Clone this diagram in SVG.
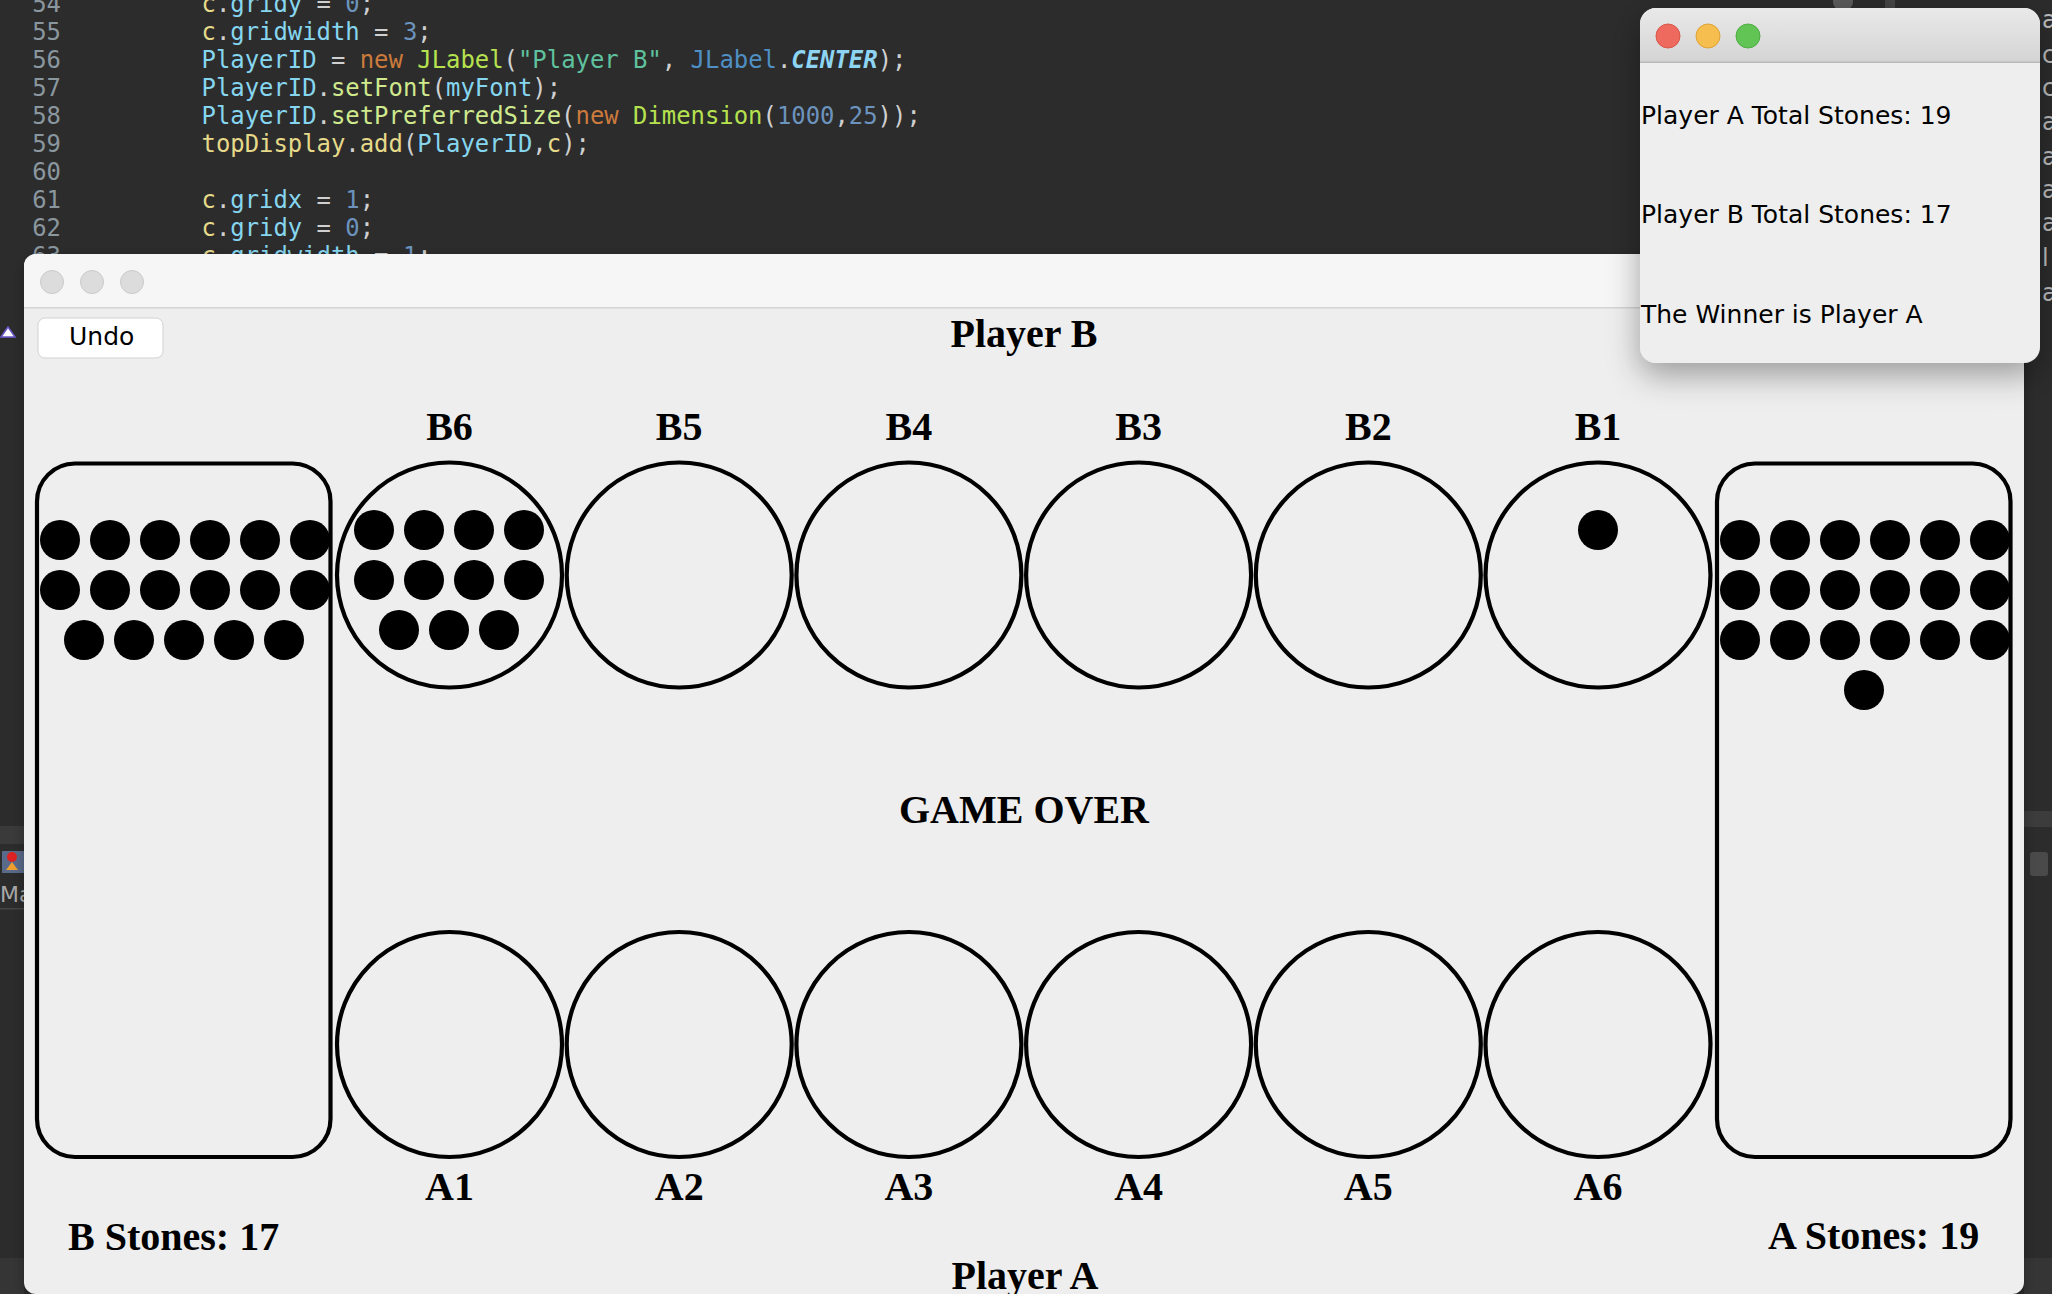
<svg xmlns="http://www.w3.org/2000/svg" width="2052" height="1294" viewBox="0 0 2052 1294">
<style>
.pit{fill:none;stroke:#000;stroke-width:4.2}
.stone{fill:#000}
.lbl{font-family:"Liberation Serif","Times New Roman",serif;font-weight:bold;font-size:40px;fill:#000}
.sys{font-family:"DejaVu Sans","Lucida Grande",sans-serif;font-size:25px;fill:#000}
.code{font-family:"DejaVu Sans Mono","Liberation Mono",monospace;font-size:23.9px;fill:#d0d0d0}
.ln{font-family:"DejaVu Sans Mono","Liberation Mono",monospace;font-size:23.9px;fill:#8a979f;text-anchor:end}
.v{fill:#86d6f0}.y{fill:#e6d98a}.k{fill:#cc7a3c}.cls{fill:#b6e24f}.s{fill:#5fc29e}.st{fill:#4f8fc4}
.n{fill:#6b93bd}.m{fill:#cfe98c}.ce{fill:#8dd5f3;font-weight:bold;font-style:italic}
.side{font-family:"DejaVu Sans",sans-serif;font-size:24px;fill:#bdbdbd}
</style>
<defs>
<linearGradient id="tb" x1="0" y1="0" x2="0" y2="1"><stop offset="0" stop-color="#e9e9e9"/><stop offset="1" stop-color="#d4d4d4"/></linearGradient>
<filter id="sh" x="-20%" y="-20%" width="140%" height="160%"><feDropShadow dx="0" dy="12" stdDeviation="16" flood-color="#000" flood-opacity="0.35"/></filter>
<filter id="sh2" x="-5%" y="-5%" width="110%" height="110%"><feDropShadow dx="0" dy="4" stdDeviation="6" flood-color="#000" flood-opacity="0.3"/></filter>
</defs>

<rect x="0" y="0" width="2052" height="1294" fill="#2c2c2c"/>
<rect x="1833" y="-8" width="20" height="18" rx="8" fill="#5a5a5a"/>
<rect x="1885" y="-4" width="10" height="16" fill="#454545"/>
<g id="code">
<text class="ln" x="61" y="12">54</text>
<text class="code" x="201.5" y="12"><tspan class="y">c</tspan>.<tspan class="v">gridy</tspan> = <tspan class="n">0</tspan>;</text>
<text class="ln" x="61" y="40">55</text>
<text class="code" x="201.5" y="40"><tspan class="y">c</tspan>.<tspan class="v">gridwidth</tspan> = <tspan class="n">3</tspan>;</text>
<text class="ln" x="61" y="68">56</text>
<text class="code" x="201.5" y="68"><tspan class="v">PlayerID</tspan> = <tspan class="k">new</tspan> <tspan class="cls">JLabel</tspan>(<tspan class="s">"Player B"</tspan>, <tspan class="st">JLabel</tspan>.<tspan class="ce">CENTER</tspan>);</text>
<text class="ln" x="61" y="96">57</text>
<text class="code" x="201.5" y="96"><tspan class="v">PlayerID</tspan>.<tspan class="m">setFont</tspan>(<tspan class="v">myFont</tspan>);</text>
<text class="ln" x="61" y="124">58</text>
<text class="code" x="201.5" y="124"><tspan class="v">PlayerID</tspan>.<tspan class="m">setPreferredSize</tspan>(<tspan class="k">new</tspan> <tspan class="cls">Dimension</tspan>(<tspan class="n">1000</tspan>,<tspan class="n">25</tspan>));</text>
<text class="ln" x="61" y="152">59</text>
<text class="code" x="201.5" y="152"><tspan class="y">topDisplay</tspan>.<tspan class="y">add</tspan>(<tspan class="v">PlayerID</tspan>,<tspan class="y">c</tspan>);</text>
<text class="ln" x="61" y="180">60</text>
<text class="ln" x="61" y="208">61</text>
<text class="code" x="201.5" y="208"><tspan class="y">c</tspan>.<tspan class="v">gridx</tspan> = <tspan class="n">1</tspan>;</text>
<text class="ln" x="61" y="236">62</text>
<text class="code" x="201.5" y="236"><tspan class="y">c</tspan>.<tspan class="v">gridy</tspan> = <tspan class="n">0</tspan>;</text>
<text class="ln" x="61" y="264">63</text>
<text class="code" x="201.5" y="264"><tspan class="y">c</tspan>.<tspan class="v">gridwidth</tspan> = <tspan class="n">1</tspan>;</text>
</g>
<g id="side-left">
<polygon points="1,337 8,327 15,337" fill="#fff" stroke="#6a5acd" stroke-width="1.5"/>
<rect x="0" y="826" width="24" height="18" fill="#3a3a3a"/>
<rect x="2" y="851" width="22" height="22" fill="#5a6a8a"/>
<circle cx="12" cy="857" r="5" fill="#d22"/>
<polygon points="6,870 12,862 18,870" fill="#f0a030"/>
<text x="0" y="902" font-family="DejaVu Sans,sans-serif" font-size="22" fill="#a8a8a8">Ma</text>
<rect x="0" y="908" width="24" height="1.5" fill="#444"/>
<rect x="0" y="1258" width="24" height="36" fill="#353535"/>
</g>
<g id="side-right">
<text class="side" x="2042" y="28">ay</text>
<text class="side" x="2042" y="63">c</text>
<text class="side" x="2042" y="96">c</text>
<text class="side" x="2042" y="130">ay</text>
<text class="side" x="2042" y="165">ay</text>
<text class="side" x="2042" y="198">ar</text>
<text class="side" x="2042" y="231">ay</text>
<text class="side" x="2042" y="266">l</text>
<text class="side" x="2042" y="301">at</text>
<rect x="2024" y="811" width="28" height="16" fill="#3c3c3c"/>
<rect x="2030" y="852" width="18" height="24" rx="3" fill="#4a4a4a"/>
<rect x="2024" y="1258" width="28" height="36" fill="#353535"/>
</g>

<g id="main-window">
<rect x="24" y="254" width="2000" height="1040" rx="12" fill="#eeeeee" filter="url(#sh2)"/>
<path d="M24,308 V266 a12,12 0 0 1 12,-12 H2012 a12,12 0 0 1 12,12 V308 Z" fill="#f6f6f6"/>
<rect x="24" y="307" width="2000" height="1.5" fill="#d4d4d4"/>
<circle cx="52" cy="282" r="11.5" fill="#dcdcdc" stroke="#cacaca" stroke-width="1"/>
<circle cx="92" cy="282" r="11.5" fill="#dcdcdc" stroke="#cacaca" stroke-width="1"/>
<circle cx="132" cy="282" r="11.5" fill="#dcdcdc" stroke="#cacaca" stroke-width="1"/>
</g>
<g id="undo-button">
<rect x="38" y="318" width="125" height="40" rx="7" fill="#ffffff" stroke="#d2d2d2" stroke-width="1"/>
<text class="sys" x="69" y="345">Undo</text>
</g>
<text id="player-b" class="lbl" x="1024" y="347" text-anchor="middle">Player B</text>

<g id="store-b">
<rect class="pit" x="37" y="463.5" width="293.5" height="693.5" rx="38"/>
<g class="stone">
<circle cx="60" cy="540" r="20"/><circle cx="110" cy="540" r="20"/><circle cx="160" cy="540" r="20"/><circle cx="210" cy="540" r="20"/><circle cx="260" cy="540" r="20"/><circle cx="310" cy="540" r="20"/>
<circle cx="60" cy="590" r="20"/><circle cx="110" cy="590" r="20"/><circle cx="160" cy="590" r="20"/><circle cx="210" cy="590" r="20"/><circle cx="260" cy="590" r="20"/><circle cx="310" cy="590" r="20"/>
<circle cx="84" cy="640" r="20"/><circle cx="134" cy="640" r="20"/><circle cx="184" cy="640" r="20"/><circle cx="234" cy="640" r="20"/><circle cx="284" cy="640" r="20"/>
</g>
</g>
<g id="store-a">
<rect class="pit" x="1717" y="463.5" width="293.5" height="693.5" rx="38"/>
<g class="stone">
<circle cx="1740" cy="540" r="20"/><circle cx="1790" cy="540" r="20"/><circle cx="1840" cy="540" r="20"/><circle cx="1890" cy="540" r="20"/><circle cx="1940" cy="540" r="20"/><circle cx="1990" cy="540" r="20"/>
<circle cx="1740" cy="590" r="20"/><circle cx="1790" cy="590" r="20"/><circle cx="1840" cy="590" r="20"/><circle cx="1890" cy="590" r="20"/><circle cx="1940" cy="590" r="20"/><circle cx="1990" cy="590" r="20"/>
<circle cx="1740" cy="640" r="20"/><circle cx="1790" cy="640" r="20"/><circle cx="1840" cy="640" r="20"/><circle cx="1890" cy="640" r="20"/><circle cx="1940" cy="640" r="20"/><circle cx="1990" cy="640" r="20"/>
<circle cx="1864" cy="690" r="20"/>
</g>
</g>

<g id="pit-B6">
<text class="lbl" x="449.5" y="440" text-anchor="middle">B6</text>
<circle class="pit" cx="449.5" cy="575" r="112.5"/>
<g class="stone">
<circle cx="374" cy="530" r="20"/><circle cx="424" cy="530" r="20"/><circle cx="474" cy="530" r="20"/><circle cx="524" cy="530" r="20"/>
<circle cx="374" cy="580" r="20"/><circle cx="424" cy="580" r="20"/><circle cx="474" cy="580" r="20"/><circle cx="524" cy="580" r="20"/>
<circle cx="399" cy="630" r="20"/><circle cx="449" cy="630" r="20"/><circle cx="499" cy="630" r="20"/>
</g>
</g>
<g id="pit-B5"><text class="lbl" x="679.2" y="440" text-anchor="middle">B5</text><circle class="pit" cx="679.2" cy="575" r="112.5"/></g>
<g id="pit-B4"><text class="lbl" x="908.9" y="440" text-anchor="middle">B4</text><circle class="pit" cx="908.9" cy="575" r="112.5"/></g>
<g id="pit-B3"><text class="lbl" x="1138.6" y="440" text-anchor="middle">B3</text><circle class="pit" cx="1138.6" cy="575" r="112.5"/></g>
<g id="pit-B2"><text class="lbl" x="1368.3" y="440" text-anchor="middle">B2</text><circle class="pit" cx="1368.3" cy="575" r="112.5"/></g>
<g id="pit-B1"><text class="lbl" x="1598" y="440" text-anchor="middle">B1</text><circle class="pit" cx="1598" cy="575" r="112.5"/><circle class="stone" cx="1598" cy="530" r="20"/></g>

<text id="game-over" class="lbl" x="1024" y="823" text-anchor="middle">GAME OVER</text>

<g id="pit-A1"><circle class="pit" cx="449.5" cy="1044.5" r="112.5"/><text class="lbl" x="449.5" y="1200" text-anchor="middle">A1</text></g>
<g id="pit-A2"><circle class="pit" cx="679.2" cy="1044.5" r="112.5"/><text class="lbl" x="679.2" y="1200" text-anchor="middle">A2</text></g>
<g id="pit-A3"><circle class="pit" cx="908.9" cy="1044.5" r="112.5"/><text class="lbl" x="908.9" y="1200" text-anchor="middle">A3</text></g>
<g id="pit-A4"><circle class="pit" cx="1138.6" cy="1044.5" r="112.5"/><text class="lbl" x="1138.6" y="1200" text-anchor="middle">A4</text></g>
<g id="pit-A5"><circle class="pit" cx="1368.3" cy="1044.5" r="112.5"/><text class="lbl" x="1368.3" y="1200" text-anchor="middle">A5</text></g>
<g id="pit-A6"><circle class="pit" cx="1598" cy="1044.5" r="112.5"/><text class="lbl" x="1598" y="1200" text-anchor="middle">A6</text></g>

<text id="b-stones" class="lbl" x="68" y="1250">B Stones: 17</text>
<text id="a-stones" class="lbl" x="1768" y="1249">A Stones: 19</text>
<text id="player-a" class="lbl" x="1025" y="1289" text-anchor="middle">Player A</text>

<g id="result-popup">
<rect x="1640" y="8" width="400" height="355" rx="16" fill="#eeeeee" filter="url(#sh)"/>
<path d="M1640,62 V24 a16,16 0 0 1 16,-16 H2024 a16,16 0 0 1 16,16 V62 Z" fill="url(#tb)"/>
<rect x="1640" y="61.5" width="400" height="1.5" fill="#b9b9b9"/>
<circle cx="1668" cy="36" r="12" fill="#ee6a5f" stroke="#d8554b" stroke-width="1"/>
<circle cx="1708" cy="36" r="12" fill="#f5be4f" stroke="#dea23a" stroke-width="1"/>
<circle cx="1748" cy="36" r="12" fill="#61c454" stroke="#4ead41" stroke-width="1"/>
<text class="sys" x="1641" y="124">Player A Total Stones: 19</text>
<text class="sys" x="1641" y="223">Player B Total Stones: 17</text>
<text class="sys" x="1641" y="323">The Winner is Player A</text>
</g>
</svg>
